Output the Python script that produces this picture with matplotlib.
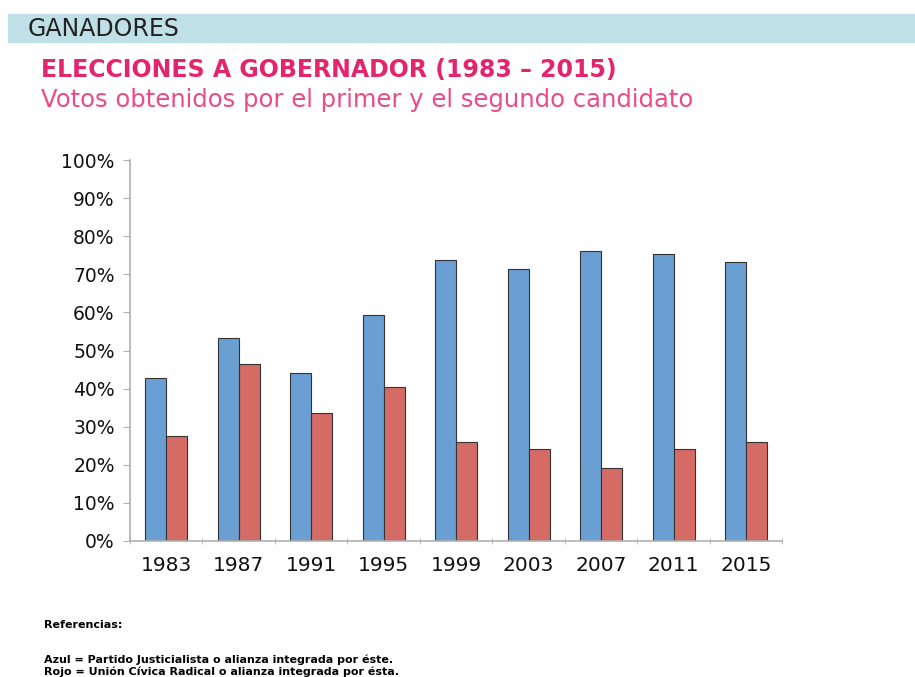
import numpy as np
import matplotlib.pyplot as plt
from matplotlib.patches import Rectangle

# Data
years = ["1983", "1987", "1991", "1995", "1999", "2003", "2007", "2011", "2015"]
primero = [42.7, 53.2, 44.1, 59.2, 73.8, 71.5, 76.1, 75.3, 73.3]   # azul
segundo = [27.6, 46.5, 33.7, 40.3, 26.0, 24.1, 19.2, 24.1, 26.0]  # rojo
yticks = np.arange(0, 101, 10)

plt.rcParams['font.family'] = ['DejaVu Sans']

fig = plt.figure(figsize=(9.15, 6.77), dpi=100)

# header band
fig.patches.append(Rectangle((0.009, 1 - 42 / 677), 0.991, 28 / 677,
                             transform=fig.transFigure, color="#BFE0E6", zorder=0))
fig.text(0.03, 1 - 29 / 677, "GANADORES", fontsize=17, color="#222222", va="center")
fig.text(0.045, 1 - 70 / 677, "ELECCIONES A GOBERNADOR (1983 – 2015)", fontsize=17,
         color="#E5246E", fontweight="bold", va="center")
fig.text(0.045, 1 - 100 / 677, "Votos obtenidos por el primer y el segundo candidato",
         fontsize=17.5, color="#EC4B88", va="center")

ax = fig.add_axes([0.142, 1 - 541 / 677, 0.713, (541 - 160) / 677])
x = np.arange(len(years))
w = 0.29
ax.bar(x - w / 2, primero, w, color="#6A9FD3", edgecolor="#333333", linewidth=0.8)
ax.bar(x + w / 2, segundo, w, color="#D56B65", edgecolor="#333333", linewidth=0.8)

ax.set_xlim(-0.5, len(years) - 0.5)
ax.set_ylim(0, 100)
ax.set_yticks(yticks)
ax.set_yticklabels([f"{v}%" for v in yticks], fontsize=13.5, color="#111111")
ax.set_xticks(x)
ax.set_xticklabels(years, fontsize=14.5, color="#111111")
ax.tick_params(axis="x", length=0, pad=11)
ax.set_xticks(np.arange(-0.5, len(years), 1), minor=True)
ax.tick_params(axis="x", which="minor", length=5, color="#B0B0B0", direction="inout")
ax.tick_params(axis="y", length=5, color="#B0B0B0", pad=6)
for s in ["top", "right"]:
    ax.spines[s].set_visible(False)
for s in ["left", "bottom"]:
    ax.spines[s].set_color("#B0B0B0")
    ax.spines[s].set_linewidth(1.2)

# footer
fig.text(0.048, 1 - 625 / 677, "Referencias:", fontsize=8, fontweight="bold", va="center")
fig.text(0.048, 1 - 660 / 677, "Azul = Partido Justicialista o alianza integrada por éste.",
         fontsize=8, fontweight="bold", va="center")
fig.text(0.048, 1 - 672 / 677, "Rojo = Unión Cívica Radical o alianza integrada por ésta.",
         fontsize=8, fontweight="bold", va="center")

fig.savefig("out.png", dpi=100)
